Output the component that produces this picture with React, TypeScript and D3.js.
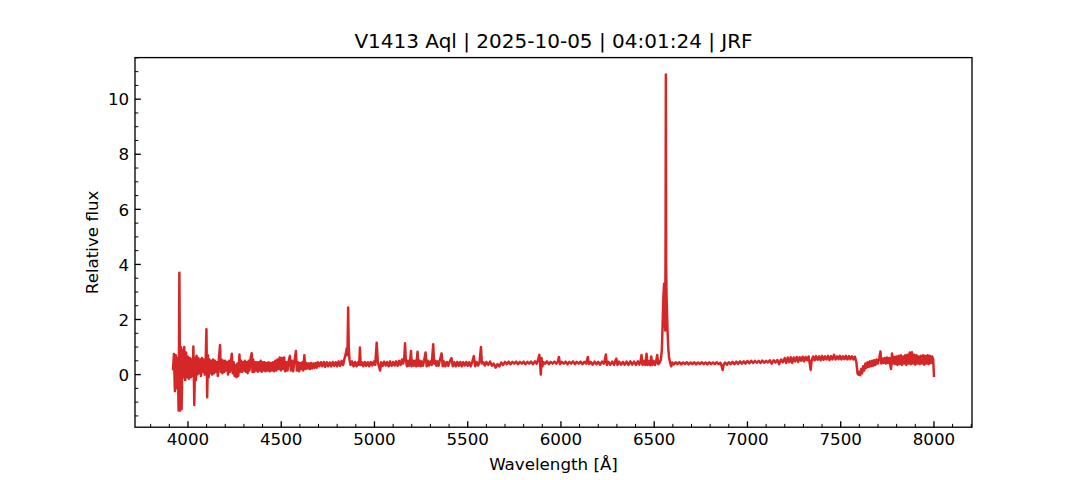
import React from "react";
import * as d3 from "d3";

// Spectrum: [wavelength (Å), relative flux]
const blueSegment: [number, number][] = [
  [3920, 0.2], [3925, 0.75], [3930, -0.6], [3935, 0.7], [3940, -0.5], [3945, 0.6],
  [3950, -1.3], [3954, 3.7], [3958, -1.3], [3962, 1.0], [3966, -1.25], [3970, 0.9],
  [3975, -0.1], [3980, 1.0], [3985, -0.2], [3990, 0.8], [3995, -0.1], [4000, 0.65],
  [4005, -0.15], [4010, 0.6], [4015, -0.1], [4020, 0.55], [4025, -0.05], [4029, 1.02],
  [4034, -1.1], [4038, 0.6], [4042, -0.2], [4046, 0.68], [4050, 0.0], [4055, 0.6],
  [4060, 0.05], [4065, 0.55], [4070, -0.05], [4075, 0.6], [4080, 0.1], [4085, 0.55],
  [4090, 0.0], [4095, 0.5], [4099, 1.65], [4103, -0.82], [4107, 0.7], [4111, -0.1],
  [4115, 0.55], [4120, 0.05], [4125, 0.5], [4130, 0.0], [4135, 0.55], [4140, 0.05],
  [4145, 0.5], [4150, 0.1], [4155, 0.45], [4160, -0.05], [4165, 0.5], [4172, 1.07],
  [4176, 0.1], [4180, 0.55], [4185, 0.05], [4190, 0.5], [4195, 0.1], [4200, 0.5],
  [4205, 0.15], [4210, 0.45], [4215, 0.0], [4220, 0.5], [4225, 0.1], [4230, 0.45],
  [4235, 0.76], [4240, 0.05], [4245, 0.45], [4250, -0.05], [4255, 0.35], [4260, -0.1],
  [4265, 0.4], [4270, -0.05], [4276, 0.73], [4280, 0.1], [4285, 0.5], [4290, 0.1],
  [4295, 0.45], [4300, 0.15], [4305, 0.5], [4310, 0.1], [4315, 0.45], [4320, 0.05],
  [4325, 0.5], [4330, 0.15], [4336, 0.6], [4342, 0.78], [4346, 0.1], [4350, 0.55],
  [4355, 0.1], [4360, 0.45], [4365, 0.15], [4370, 0.45], [4375, 0.1], [4380, 0.45],
  [4385, 0.15], [4390, 0.5], [4395, 0.1], [4400, 0.45], [4405, 0.15], [4410, 0.45],
  [4415, 0.12], [4420, 0.42],
];

const blueGreenSegment: [number, number][] = [
  [4426, 0.15], [4432, 0.45], [4438, 0.12], [4444, 0.42], [4450, 0.15], [4456, 0.45],
  [4462, 0.12], [4468, 0.5], [4474, 0.15], [4480, 0.55], [4486, 0.2], [4492, 0.62],
  [4498, 0.15], [4504, 0.6], [4510, 0.2], [4516, 0.62], [4522, 0.12], [4528, 0.45],
  [4534, 0.15], [4540, 0.5], [4547, 0.68], [4552, 0.15], [4558, 0.5], [4564, 0.12],
  [4570, 0.45], [4579, 0.86], [4584, 0.15], [4590, 0.45], [4596, 0.12], [4602, 0.42],
  [4608, 0.2], [4614, 0.45], [4618, 0.15], [4624, 0.7], [4630, 0.2], [4636, 0.42],
  [4642, 0.22], [4648, 0.4], [4654, 0.2], [4660, 0.42], [4666, 0.22], [4672, 0.4],
  [4678, 0.25], [4684, 0.42], [4690, 0.25], [4696, 0.45],
];

const greenSegment: [number, number][] = [
  [4704, 0.3], [4712, 0.45], [4720, 0.3], [4728, 0.46], [4736, 0.28], [4744, 0.45],
  [4752, 0.3], [4760, 0.44], [4768, 0.3], [4776, 0.46], [4784, 0.32], [4792, 0.45],
  [4800, 0.3], [4808, 0.48], [4816, 0.32], [4824, 0.5], [4832, 0.35], [4840, 0.6],
  [4846, 0.75], [4851, 0.95], [4855, 0.7], [4859, 2.44], [4862, 1.0], [4866, 0.55],
  [4872, 0.35], [4880, 0.48], [4888, 0.3], [4896, 0.46], [4904, 0.3], [4912, 0.45],
  [4918, 0.35], [4922, 0.98], [4926, 0.35], [4932, 0.45], [4940, 0.3], [4948, 0.46],
  [4956, 0.32], [4964, 0.45], [4972, 0.3], [4980, 0.46], [4988, 0.33], [4996, 0.47],
  [5004, 0.35], [5012, 1.16], [5018, 0.45], [5024, 0.3], [5030, 0.15], [5036, 0.45],
  [5044, 0.32], [5052, 0.47], [5060, 0.33], [5068, 0.46], [5076, 0.3], [5084, 0.48],
  [5092, 0.32], [5100, 0.46], [5108, 0.33], [5116, 0.48], [5124, 0.32], [5132, 0.5],
  [5140, 0.35], [5148, 0.55], [5154, 0.4], [5160, 0.62], [5164, 1.14], [5168, 0.55],
  [5174, 0.3], [5180, 0.5], [5186, 0.32], [5191, 0.48], [5196, 0.86], [5200, 0.3],
  [5206, 0.5], [5212, 0.32], [5218, 0.5], [5224, 0.3], [5231, 0.83], [5236, 0.32],
  [5242, 0.5], [5248, 0.3], [5254, 0.48], [5260, 0.32], [5266, 0.5], [5274, 0.8],
  [5280, 0.3], [5286, 0.5], [5292, 0.33], [5300, 0.48], [5307, 0.35], [5315, 1.1],
  [5320, 0.4], [5326, 0.5], [5332, 0.32], [5338, 0.48], [5344, 0.32], [5350, 0.5],
  [5360, 0.77], [5366, 0.3], [5372, 0.48], [5380, 0.3], [5388, 0.46], [5396, 0.32],
  [5404, 0.48], [5413, 0.6], [5420, 0.3], [5428, 0.45], [5436, 0.3], [5444, 0.46],
  [5452, 0.32], [5460, 0.46], [5468, 0.3], [5476, 0.45], [5484, 0.33], [5492, 0.46],
  [5500, 0.32], [5508, 0.45], [5516, 0.3], [5524, 0.46], [5533, 0.67], [5540, 0.3],
  [5548, 0.46], [5556, 0.33], [5564, 0.48], [5571, 1.0], [5576, 0.4], [5584, 0.45],
  [5592, 0.33], [5600, 0.46],
];

const yellowSegment: [number, number][] = [
  [5610, 0.35], [5620, 0.47], [5630, 0.32], [5640, 0.4], [5650, 0.25], [5660, 0.38],
  [5670, 0.3], [5680, 0.44], [5690, 0.35], [5700, 0.46], [5710, 0.38], [5720, 0.47],
  [5730, 0.38], [5740, 0.46], [5750, 0.4], [5760, 0.47], [5770, 0.38], [5780, 0.46],
  [5790, 0.4], [5800, 0.47], [5810, 0.38], [5820, 0.46], [5830, 0.4], [5840, 0.47],
  [5850, 0.38], [5860, 0.48], [5870, 0.4], [5878, 0.55], [5884, 0.72], [5888, 0.4],
  [5892, 0.0], [5896, 0.6], [5900, 0.3], [5906, 0.45], [5915, 0.4], [5925, 0.48],
  [5935, 0.38], [5945, 0.46], [5955, 0.4], [5965, 0.47], [5975, 0.4], [5983, 0.46],
  [5989, 0.64], [5995, 0.38], [6005, 0.46], [6015, 0.4], [6025, 0.47], [6035, 0.38],
  [6045, 0.46], [6055, 0.4], [6065, 0.48], [6075, 0.38], [6085, 0.46], [6095, 0.4],
  [6105, 0.47], [6115, 0.38], [6125, 0.46], [6135, 0.4], [6144, 0.64], [6150, 0.38],
  [6160, 0.46], [6170, 0.36], [6180, 0.47], [6190, 0.38], [6200, 0.46], [6210, 0.36],
  [6220, 0.47], [6230, 0.4], [6236, 0.55], [6241, 0.73], [6246, 0.35], [6255, 0.46],
  [6265, 0.36], [6275, 0.47], [6285, 0.35], [6292, 0.5], [6297, 0.58], [6303, 0.35],
  [6312, 0.47], [6322, 0.36], [6332, 0.46], [6342, 0.36], [6352, 0.47], [6362, 0.35],
  [6372, 0.48], [6382, 0.36], [6392, 0.47], [6402, 0.35], [6412, 0.48], [6420, 0.36],
  [6427, 0.5], [6432, 0.71], [6437, 0.35], [6446, 0.5], [6452, 0.35], [6459, 0.76],
  [6464, 0.35], [6472, 0.48], [6478, 0.34], [6484, 0.66], [6490, 0.35], [6497, 0.5],
  [6504, 0.35], [6510, 0.46], [6516, 0.71], [6522, 0.38], [6530, 0.45],
];

const halphaSegment: [number, number][] = [
  [6536, 0.55], [6541, 0.9], [6545, 1.8], [6549, 2.8], [6553, 3.3], [6556, 2.2],
  [6559, 1.6], [6561, 5.0], [6562.5, 10.9], [6564, 4.0], [6566, 2.9], [6569, 2.2],
  [6572, 1.5], [6576, 0.9], [6580, 0.6], [6585, 0.45], [6591, 0.3], [6597, 0.44],
];

const redSegment: [number, number][] = [
  [6605, 0.37], [6615, 0.45], [6625, 0.38], [6635, 0.45], [6645, 0.37], [6655, 0.44],
  [6665, 0.38], [6675, 0.45], [6685, 0.37], [6695, 0.44], [6705, 0.38], [6715, 0.45],
  [6725, 0.37], [6735, 0.44], [6745, 0.38], [6755, 0.45], [6765, 0.38], [6775, 0.44],
  [6785, 0.37], [6795, 0.45], [6805, 0.38], [6815, 0.44], [6825, 0.38], [6835, 0.45],
  [6845, 0.38], [6855, 0.43], [6862, 0.3], [6867, 0.17], [6872, 0.35], [6880, 0.44],
  [6890, 0.36], [6900, 0.45], [6910, 0.38], [6920, 0.46], [6930, 0.38], [6940, 0.47],
  [6950, 0.39], [6960, 0.48], [6970, 0.4], [6980, 0.48], [6990, 0.4], [7000, 0.49],
  [7010, 0.41], [7020, 0.5], [7030, 0.42], [7040, 0.5], [7050, 0.43], [7060, 0.5],
  [7070, 0.42], [7080, 0.51], [7090, 0.43], [7100, 0.5], [7110, 0.44], [7120, 0.52],
  [7130, 0.4], [7140, 0.52], [7150, 0.44], [7160, 0.53], [7170, 0.38], [7180, 0.55],
  [7190, 0.45], [7200, 0.6], [7208, 0.42], [7216, 0.62], [7224, 0.45], [7232, 0.63],
  [7240, 0.42], [7248, 0.62], [7256, 0.48], [7264, 0.64], [7272, 0.46], [7280, 0.63],
  [7288, 0.5], [7296, 0.65], [7304, 0.48], [7312, 0.64], [7320, 0.52], [7328, 0.66],
  [7334, 0.4], [7339, 0.17], [7344, 0.5], [7352, 0.66], [7360, 0.52], [7368, 0.67],
  [7376, 0.54], [7384, 0.66], [7392, 0.52], [7400, 0.68], [7408, 0.54], [7416, 0.66],
  [7424, 0.55], [7432, 0.68], [7440, 0.53], [7448, 0.67], [7456, 0.55], [7464, 0.72],
  [7472, 0.55], [7480, 0.66], [7488, 0.56], [7496, 0.68], [7504, 0.55], [7512, 0.66],
  [7520, 0.56], [7528, 0.68], [7536, 0.55], [7544, 0.67], [7552, 0.56], [7560, 0.66],
  [7568, 0.55], [7576, 0.65], [7584, 0.45], [7590, 0.05], [7595, 0.0], [7600, 0.1],
  [7605, -0.02], [7610, 0.2], [7615, 0.05], [7620, 0.3], [7626, 0.15], [7632, 0.4],
  [7638, 0.25], [7644, 0.45], [7650, 0.28], [7656, 0.48], [7662, 0.3], [7668, 0.5],
  [7674, 0.32], [7680, 0.52], [7686, 0.35], [7692, 0.55], [7700, 0.4], [7707, 0.6],
  [7713, 0.84], [7718, 0.4], [7724, 0.58], [7730, 0.42], [7736, 0.6], [7742, 0.4],
  [7748, 0.62], [7754, 0.42], [7760, 0.6], [7766, 0.35], [7770, 0.2], [7775, 0.77],
  [7780, 0.4], [7786, 0.64], [7792, 0.38], [7798, 0.66], [7804, 0.35], [7810, 0.68],
  [7816, 0.38], [7822, 0.7], [7828, 0.35], [7834, 0.66], [7840, 0.4], [7846, 0.7],
  [7852, 0.35], [7858, 0.72], [7864, 0.4], [7870, 0.8], [7876, 0.38], [7882, 0.81],
  [7888, 0.4], [7894, 0.72], [7900, 0.36], [7906, 0.7], [7912, 0.4], [7918, 0.66],
  [7924, 0.38], [7930, 0.68], [7936, 0.4], [7942, 0.7], [7948, 0.36], [7954, 0.68],
  [7960, 0.4], [7966, 0.7], [7972, 0.38], [7978, 0.68], [7984, 0.42], [7990, 0.66],
  [7996, 0.55], [8000, -0.04],
];

const xMajorTicks = [4000, 4500, 5000, 5500, 6000, 6500, 7000, 7500, 8000];
const yMajorTicks = [0, 2, 4, 6, 8, 10];
const titleText = "V1413 Aql | 2025-10-05 | 04:01:24 | JRF";
const xLabelText = "Wavelength [Å]";
const yLabelText = "Relative flux";

const W = 1080;
const H = 480;
const M = { left: 135, right: 972, top: 57.6, bottom: 427.2 };
const FONT = "'DejaVu Sans', sans-serif";
const LINE_COLOR = "#d62728";

export default function App() {
  const data = [
    ...blueSegment,
    ...blueGreenSegment,
    ...greenSegment,
    ...yellowSegment,
    ...halphaSegment,
    ...redSegment,
  ];
  const xExt = d3.extent(data, (d) => d[0]) as [number, number];
  const yExt = d3.extent(data, (d) => d[1]) as [number, number];
  const xPad = (xExt[1] - xExt[0]) * 0.05;
  const yPad = (yExt[1] - yExt[0]) * 0.05;

  const x = d3
    .scaleLinear()
    .domain([xExt[0] - xPad, xExt[1] + xPad])
    .range([M.left, M.right]);
  const y = d3
    .scaleLinear()
    .domain([yExt[0] - yPad, yExt[1] + yPad])
    .range([M.bottom, M.top]);

  const line = d3
    .line<[number, number]>()
    .x((d) => x(d[0]))
    .y((d) => y(d[1]));

  const [xd0, xd1] = x.domain();
  const [yd0, yd1] = y.domain();
  const xMinor = d3
    .range(Math.ceil(xd0 / 100) * 100, xd1 + 1e-9, 100)
    .filter((v) => !xMajorTicks.includes(v));
  const yMinor = d3
    .range(Math.ceil(yd0 / 0.5) * 0.5, yd1 + 1e-9, 0.5)
    .filter((v) => !yMajorTicks.some((t) => Math.abs(t - v) < 1e-9));

  const majorLen = 5.83;
  const minorLen = 3.33;
  const labelSize = 16.7;

  return (
    <svg
      width={W}
      height={H}
      style={{ position: "absolute", left: 0, top: 0, background: "#fff" }}
      fontFamily={FONT}
    >
      <rect x={0} y={0} width={W} height={H} fill="#fff" />
      <path
        d={line(data) || ""}
        fill="none"
        stroke={LINE_COLOR}
        strokeWidth={2.5}
        strokeLinejoin="round"
        strokeLinecap="square"
      />
      {xMinor.map((v) => (
        <line
          key={"xm" + v}
          x1={x(v)}
          x2={x(v)}
          y1={M.bottom}
          y2={M.bottom - minorLen}
          stroke="#000"
          strokeWidth={1}
        />
      ))}
      {yMinor.map((v) => (
        <line
          key={"ym" + v}
          x1={M.left}
          x2={M.left + minorLen}
          y1={y(v)}
          y2={y(v)}
          stroke="#000"
          strokeWidth={1}
        />
      ))}
      {xMajorTicks.map((v) => (
        <g key={"xt" + v}>
          <line
            x1={x(v)}
            x2={x(v)}
            y1={M.bottom}
            y2={M.bottom - majorLen}
            stroke="#000"
            strokeWidth={1.33}
          />
          <text
            x={x(v)}
            y={445}
            textAnchor="middle"
            fontSize={labelSize}
            fill="#000"
          >
            {v}
          </text>
        </g>
      ))}
      {yMajorTicks.map((v) => (
        <g key={"yt" + v}>
          <line
            x1={M.left}
            x2={M.left + majorLen}
            y1={y(v)}
            y2={y(v)}
            stroke="#000"
            strokeWidth={1.33}
          />
          <text
            x={M.left - 5.83}
            y={y(v) + 6.2}
            textAnchor="end"
            fontSize={labelSize}
            fill="#000"
          >
            {v}
          </text>
        </g>
      ))}
      <rect
        x={M.left}
        y={M.top}
        width={M.right - M.left}
        height={M.bottom - M.top}
        fill="none"
        stroke="#000"
        strokeWidth={1.33}
      />
      <text
        x={(M.left + M.right) / 2}
        y={48}
        textAnchor="middle"
        fontSize={20}
        fill="#000"
      >
        {titleText}
      </text>
      <text
        x={(M.left + M.right) / 2}
        y={470}
        textAnchor="middle"
        fontSize={labelSize}
        fill="#000"
      >
        {xLabelText}
      </text>
      <text
        transform={`translate(${97.8},${(M.top + M.bottom) / 2}) rotate(-90)`}
        textAnchor="middle"
        fontSize={labelSize}
        fill="#000"
      >
        {yLabelText}
      </text>
    </svg>
  );
}
